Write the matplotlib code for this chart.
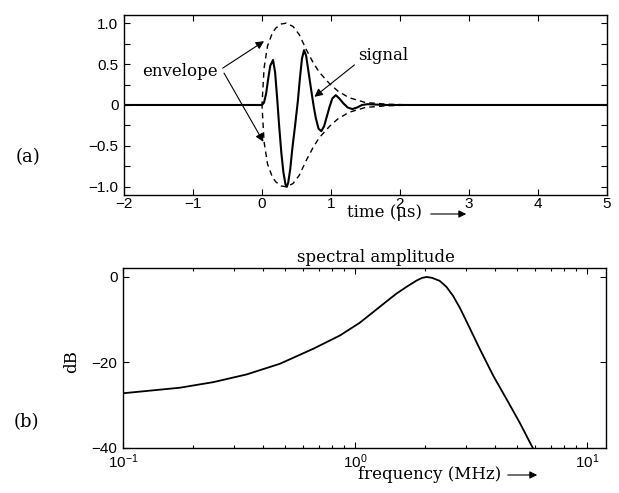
import matplotlib
matplotlib.use("Agg")
import matplotlib.pyplot as plt
from matplotlib.ticker import MultipleLocator, LogLocator, NullFormatter

# values
t_signal = [-2.0, 0.0, 0.03, 0.06, 0.09, 0.12, 0.16, 0.19, 0.22, 0.25, 0.28, 0.31,
            0.34, 0.36, 0.38, 0.41, 0.44, 0.48, 0.52, 0.55, 0.58, 0.61, 0.64, 0.67,
            0.71, 0.75, 0.78, 0.82, 0.86, 0.90, 0.94, 0.98, 1.02, 1.07, 1.12, 1.18,
            1.24, 1.31, 1.38, 1.45, 1.53, 1.65, 1.8, 5.0]
signal = [0.0, 0.0, 0.03, 0.14, 0.32, 0.48, 0.55, 0.40, 0.08, -0.27, -0.58, -0.82,
          -0.97, -1.0, -0.95, -0.78, -0.53, -0.25, 0.05, 0.33, 0.57, 0.67, 0.60, 0.43,
          0.20, -0.02, -0.16, -0.29, -0.32, -0.26, -0.14, -0.02, 0.08, 0.12, 0.08, 0.02,
          -0.03, -0.05, -0.03, 0.0, 0.01, 0.005, 0.0, 0.0]

t_env = [-2.0, 0.0, 0.03, 0.08, 0.15, 0.2, 0.28, 0.35, 0.45, 0.54, 0.64, 0.74, 0.83,
         0.98, 1.1, 1.26, 1.5, 1.8, 2.2, 5.0]
env = [0.0, 0.0, 0.45, 0.72, 0.88, 0.94, 0.99, 1.0, 0.96, 0.86, 0.68, 0.52, 0.40,
       0.26, 0.17, 0.09, 0.03, 0.01, 0.0, 0.0]

freq = [0.1, 0.13, 0.176, 0.245, 0.341, 0.475, 0.661, 0.861, 1.05, 1.2, 1.37, 1.51,
        1.67, 1.85, 1.95, 2.04, 2.15, 2.32, 2.48, 2.65, 2.84, 3.03, 3.46, 3.95, 4.51,
        5.14, 5.85]
spec_db = [-27.2, -26.6, -25.9, -24.6, -22.8, -20.3, -16.8, -13.7, -10.7, -8.2,
           -5.7, -3.9, -2.3, -0.8, -0.2, 0.0, -0.2, -0.9, -2.3, -4.4, -7.3, -10.4,
           -16.9, -23.1, -28.6, -34.1, -40.0]

plt.rcParams["font.family"] = ["Liberation Sans", "DejaVu Sans"]
plt.rcParams["font.size"] = 11
SERIF = "DejaVu Serif"

fig = plt.figure(figsize=(6.19, 4.93), dpi=100)
ax1 = fig.add_axes([0.2003, 0.6045, 0.7803, 0.3651])
ax2 = fig.add_axes([0.1987, 0.0913, 0.7803, 0.3651])

for ax in (ax1, ax2):
    ax.tick_params(which="both", direction="in", top=True, right=True,
                   length=4, width=0.8, labelsize=11)
    for s in ax.spines.values():
        s.set_linewidth(1.0)

# (a) signal + envelope
ax1.plot(t_signal, signal, color="black", lw=1.5)
ax1.plot(t_env, env, color="black", lw=1.0, ls=(0, (4, 3)))
ax1.plot(t_env, [-v for v in env], color="black", lw=1.0, ls=(0, (4, 3)))
ax1.set_xlim(-2, 5)
ax1.set_ylim(-1.1, 1.1)
ax1.xaxis.set_major_locator(MultipleLocator(1))
ax1.yaxis.set_minor_locator(MultipleLocator(0.25))
ax1.set_yticks([-1.0, -0.5, 0, 0.5, 1.0])
ax1.set_yticklabels(["\u22121.0", "\u22120.5", "0", "0.5", "1.0"])
ax1.tick_params(axis="x", pad=1.5)
ax1.tick_params(axis="y", pad=4)

arr = dict(arrowstyle="-|>", color="black", lw=0.8, mutation_scale=12,
           shrinkA=0, shrinkB=0)
ax1.text(-1.19, 0.41, "envelope", ha="center", va="center",
         family=SERIF, fontsize=12)
ax1.annotate("", xy=(0.03, 0.78), xytext=(-0.57, 0.45), arrowprops=arr)
ax1.annotate("", xy=(0.02, -0.45), xytext=(-0.55, 0.39), arrowprops=arr)
ax1.text(1.76, 0.61, "signal", ha="center", va="center",
         family=SERIF, fontsize=12)
ax1.annotate("", xy=(0.76, 0.10), xytext=(1.34, 0.49), arrowprops=arr)

# (b) spectral amplitude
ax2.semilogx(freq, spec_db, color="black", lw=1.3)
ax2.set_xlim(0.1, 12.1)
ax2.set_ylim(-40, 2.1)
ax2.set_yticks([-40, -20, 0])
ax2.set_yticklabels(["\u221240", "\u221220", "0"])
ax2.xaxis.set_major_locator(LogLocator(base=10))
ax2.xaxis.set_minor_locator(LogLocator(base=10, subs=range(2, 10)))
ax2.xaxis.set_minor_formatter(NullFormatter())
ax2.tick_params(which="minor", length=2.5)
ax2.tick_params(axis="x", pad=3)
ax2.tick_params(axis="y", pad=4)

# labels and texts placed as in the reference
fig.text(0.045, 0.682, "(a)", ha="center", va="center", family=SERIF, fontsize=13)
fig.text(0.042, 0.144, "(b)", ha="center", va="center", family=SERIF, fontsize=13)
fig.text(0.116, 0.266, "dB", ha="center", va="center", rotation=90,
         family=SERIF, fontsize=12)
fig.text(0.6074, 0.4787, "spectral amplitude", ha="center", va="center",
         family=SERIF, fontsize=12)

fig.text(0.5606, 0.568, "time (\u03bcs)", ha="left", va="center",
         family=SERIF, fontsize=12)
fig.add_artist(matplotlib.patches.FancyArrowPatch(
    (428 / 619, 1 - 214 / 493), (469 / 619, 1 - 214 / 493),
    transform=fig.transFigure, arrowstyle="-|>", color="black", lw=0.8,
    mutation_scale=11))

fig.text(0.578, 0.038, "frequency (MHz)", ha="left", va="center",
         family=SERIF, fontsize=12)
fig.add_artist(matplotlib.patches.FancyArrowPatch(
    (505 / 619, 1 - 475 / 493), (540 / 619, 1 - 475 / 493),
    transform=fig.transFigure, arrowstyle="-|>", color="black", lw=0.8,
    mutation_scale=11))

fig.savefig("out.png", dpi=100)
